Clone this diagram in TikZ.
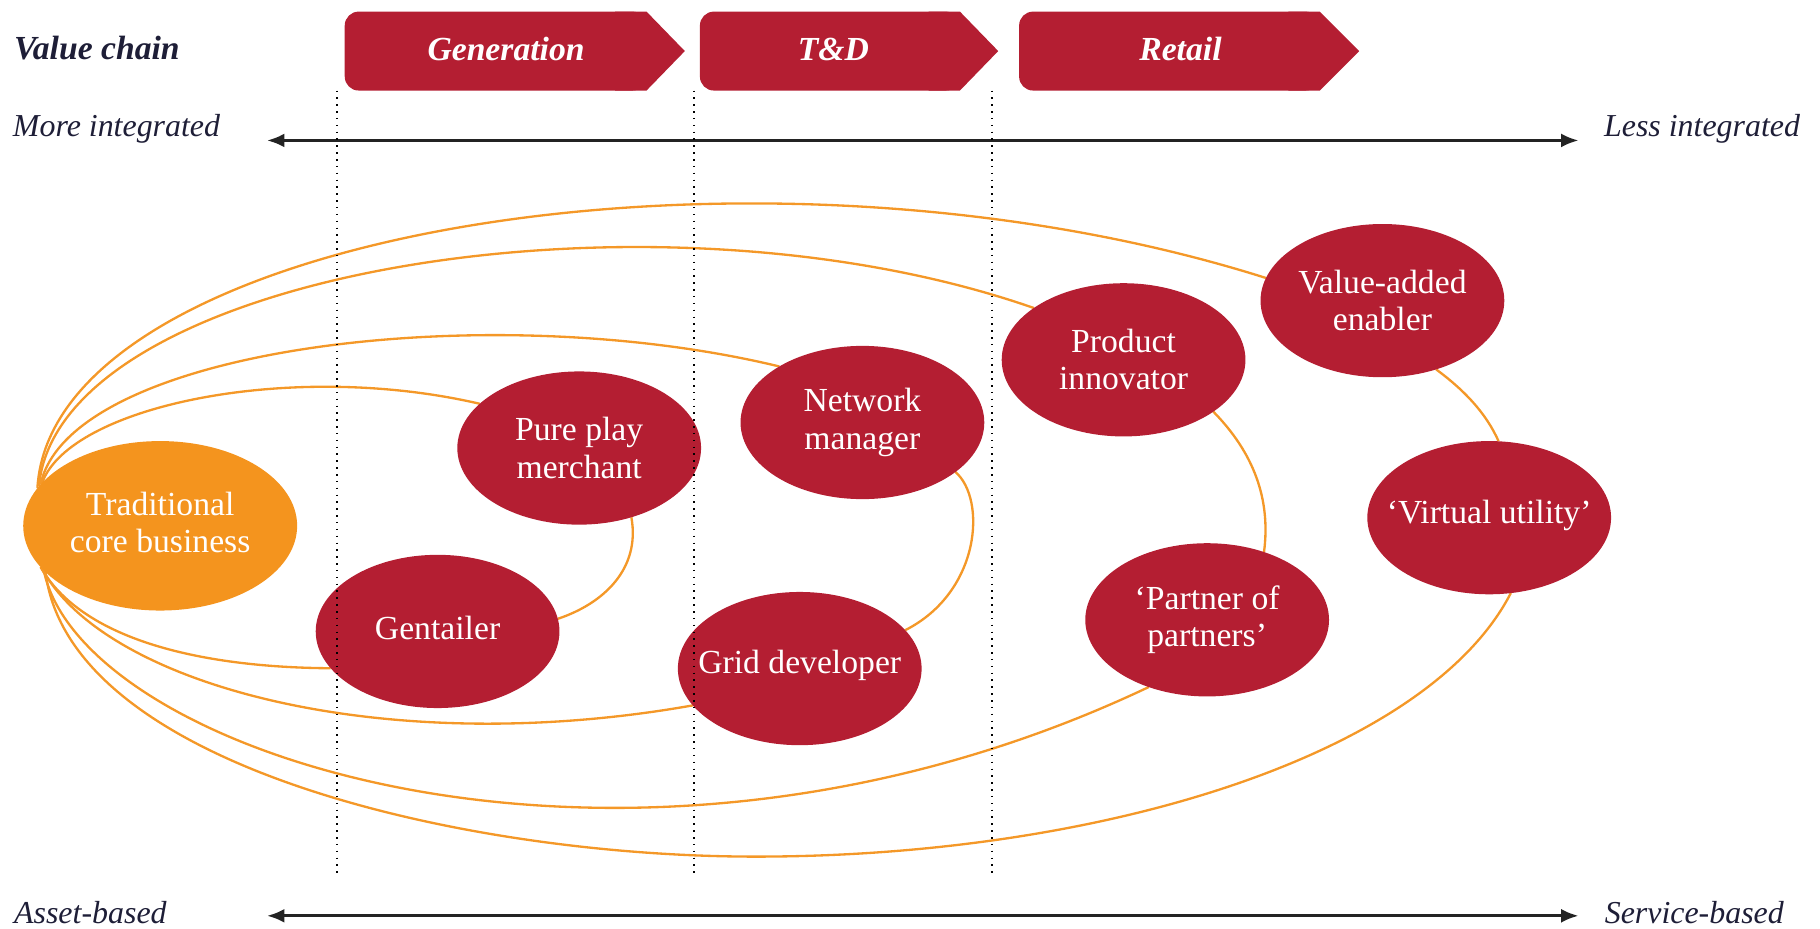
\documentclass[tikz,border=0pt]{standalone}
\usepackage{fontspec}
\setmainfont{Liberation Serif}
\usetikzlibrary{arrows.meta,shapes.geometric}
\pgfdeclarelayer{bg}
\pgfsetlayers{bg,main}
\definecolor{pwcred}{RGB}{180,30,50}
\definecolor{pwcorange}{RGB}{244,148,30}
\definecolor{linkorange}{RGB}{244,152,40}
\definecolor{navy}{RGB}{30,30,55}
\definecolor{axisgray}{RGB}{35,35,35}
\tikzset{
  role/.style={ellipse, fill=pwcred, minimum width=210pt, minimum height=132pt, inner sep=0pt, outer sep=0pt},
  core/.style={role, fill=pwcorange, minimum width=236pt, minimum height=146pt},
  roletext/.style={text=white, align=center, inner sep=0pt, font=\fontsize{29}{32}\selectfont},
  link/.style={draw=linkorange, line width=2pt},
  chevfill/.style={fill=pwcred},
  chevtext/.style={text=white, anchor=base, inner sep=0pt, font=\fontsize{29}{32}\selectfont\bfseries\itshape},
  axislabel/.style={text=navy, inner sep=0pt, font=\fontsize{27.5}{30}\selectfont\itshape},
  vclabel/.style={text=navy, inner sep=0pt, font=\fontsize{29}{32}\selectfont\bfseries\itshape},
  axisline/.style={draw=axisgray, line width=2.6pt, {Latex[length=15pt,width=12pt]}-{Latex[length=15pt,width=12pt]}},
  stage/.style={draw=black, line width=1.7pt, dash pattern=on 1.3pt off 4.6pt}
}
\begin{document}
\begin{tikzpicture}[x=1pt,y=-1pt]
\useasboundingbox (0,0) rectangle (1568,800);

% chevrons
\fill[chevfill, rounded corners=12pt] (297,10) rectangle (557,78);
\fill[chevfill] (530,10) -- (557,10) -- (590,44) -- (557,78) -- (530,78) -- cycle;
\fill[chevfill, rounded corners=12pt] (603,10) rectangle (827,78);
\fill[chevfill] (800,10) -- (827,10) -- (860,44) -- (827,78) -- (800,78) -- cycle;
\fill[chevfill, rounded corners=12pt] (878,10) rectangle (1137,78);
\fill[chevfill] (1110,10) -- (1137,10) -- (1171,44) -- (1137,78) -- (1110,78) -- cycle;
\node[chevtext] (gen) at (436,52) {Generation};
\node[chevtext] (td) at (718,52) {T\&D};
\node[chevtext] (ret) at (1017,52) {Retail};

% labels
\node[vclabel, anchor=base west] (vc) at (12,51) {Value chain};
\node[axislabel, anchor=base west] (more) at (11,118) {More integrated};
\node[axislabel, anchor=base east] (less) at (1551,118) {Less integrated};
\node[axislabel, anchor=base west] (asset) at (12,796) {Asset-based};
\node[axislabel, anchor=base east] (service) at (1537,796) {Service-based};

% axes
\coordinate (a1l) at (230,121);
\coordinate (a1r) at (1360,121);
\coordinate (a2l) at (230,789);
\coordinate (a2r) at (1360,789);
\draw[axisline] (a1l) -- (a1r);
\draw[axisline] (a2l) -- (a2r);

% ellipses
\node[core] (core) at (138,453) {};
\node[roletext] (core-t) at (138,450) {Traditional\\core business};
\node[role] (pp) at (499,386) {};
\node[roletext] (pp-t) at (pp) {Pure play\\merchant};
\node[role] (nm) at (743,364) {};
\node[roletext] (nm-t) at (nm) {Network\\manager};
\node[role] (pi) at (968,310) {};
\node[roletext] (pi-t) at (pi) {Product\\innovator};
\node[role] (vae) at (1191,259) {};
\node[roletext] (vae-t) at (vae) {Value-added\\enabler};
\node[role] (gt) at (377,544) {};
\node[roletext] (gt-t) at (377,541) {Gentailer};
\node[role] (gd) at (689,576) {};
\node[roletext] (gd-t) at (689,573) {Grid developer};
\node[role] (pa) at (1040,534) {};
\node[roletext] (pa-t) at (pa) {`Partner of\\partners'};
\node[role] (vu) at (1283,446) {};
\node[roletext] (vu-t) at (1283,444) {`Virtual utility'};

% connectors
\coordinate (vubottom) at (651,738);
\begin{pgfonlayer}{bg}
\draw[link] (core.160) .. controls (60,350) and (250,310) .. (pp.156);
\draw[link] (pp.307) .. controls (552,490) and (520,520) .. (gt.6);
\draw[link] (gt.199.5) .. controls (170,575) and (70,550) .. (core.199);

\draw[link] (core.161) .. controls (60,300) and (420,255) .. (nm.146);
\draw[link] (nm.332.6) .. controls (850,430) and (845,510) .. (gd.20.6);
\draw[link] (gd.199.4) .. controls (330,655) and (90,590) .. (core.200);

\draw[link] (core.162) .. controls (50,235) and (560,150) .. (pi.150);
\draw[link] (pi.330) .. controls (1080,390) and (1095,430) .. (pa.50);
\draw[link] (pa.229.6) .. controls (540,805) and (70,650) .. (core.201);

\draw[link] (core.163) .. controls (45,200) and (650,100) .. (vae.169);
\draw[link] (vae.308) .. controls (1260,335) and (1280,355) .. (vu.83);
\draw[link] (vu.286.3) .. controls (1230,650) and (950,738) .. (vubottom)
            .. controls (400,738) and (60,660) .. (core.202);
\end{pgfonlayer}

% stage separators
\coordinate (s1t) at (290,78);  \coordinate (s1b) at (290,752);
\coordinate (s2t) at (598,78);  \coordinate (s2b) at (598,752);
\coordinate (s3t) at (855,78);  \coordinate (s3b) at (855,752);
\draw[stage] (s1t) -- (s1b);
\draw[stage] (s2t) -- (s2b);
\draw[stage] (s3t) -- (s3b);
\end{tikzpicture}
\end{document}
